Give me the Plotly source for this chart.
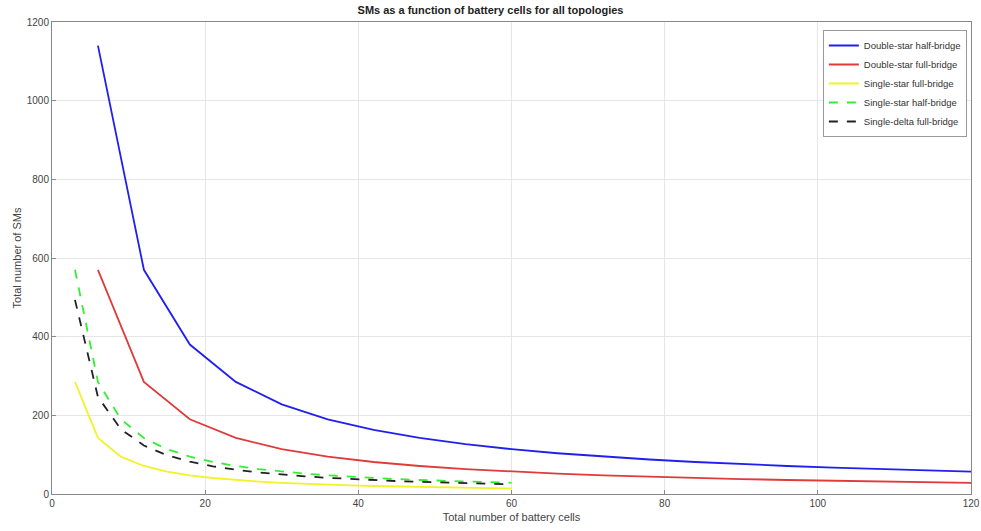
import plotly.graph_objects as go

# Data
x_double = [6, 12, 18, 24, 30, 36, 42, 48, 54, 60, 66, 72, 78, 84, 90, 96, 102, 108, 114, 120]
x_single = [3, 6, 9, 12, 15, 18, 21, 24, 27, 30, 33, 36, 39, 42, 45, 48, 51, 54, 57, 60]

ds_half = [1140, 570, 380, 285, 228, 190, 162.9, 142.5, 126.7, 114, 103.6, 95, 87.7, 81.4, 76, 71.25, 67.1, 63.3, 60, 57]
ds_full = [570, 285, 190, 142.5, 114, 95, 81.4, 71.25, 63.3, 57, 51.8, 47.5, 43.8, 40.7, 38, 35.6, 33.5, 31.7, 30, 28.5]
ss_full = [285, 142.5, 95, 71.25, 57, 47.5, 40.7, 35.6, 31.7, 28.5, 25.9, 23.75, 21.9, 20.4, 19, 17.8, 16.8, 15.8, 15, 14.25]
ss_half = [570, 285, 190, 142.5, 114, 95, 81.4, 71.25, 63.3, 57, 51.8, 47.5, 43.8, 40.7, 38, 35.6, 33.5, 31.7, 30, 28.5]
sd_full = [493.6, 246.8, 164.6, 123.4, 98.7, 82.3, 70.5, 61.7, 54.9, 49.4, 44.9, 41.1, 38, 35.3, 32.9, 30.9, 29, 27.4, 26, 24.7]

x_ticks = [0, 20, 40, 60, 80, 100, 120]
y_ticks = [0, 200, 400, 600, 800, 1000, 1200]

FONT = "Liberation Sans, Arial, sans-serif"

fig = go.Figure()
fig.add_trace(go.Scatter(x=x_double, y=ds_half, mode="lines", name="Double-star half-bridge",
                         line=dict(color="#2020ee", width=1.8)))
fig.add_trace(go.Scatter(x=x_double, y=ds_full, mode="lines", name="Double-star full-bridge",
                         line=dict(color="#e03a3a", width=1.8)))
fig.add_trace(go.Scatter(x=x_single, y=ss_full, mode="lines", name="Single-star full-bridge",
                         line=dict(color="#f2f22a", width=1.8)))
fig.add_trace(go.Scatter(x=x_single, y=ss_half, mode="lines", name="Single-star half-bridge",
                         line=dict(color="#33ee33", width=1.8, dash="dash")))
fig.add_trace(go.Scatter(x=x_single, y=sd_full, mode="lines", name="Single-delta full-bridge",
                         line=dict(color="#222222", width=1.8, dash="dash")))

axis_common = dict(
    showgrid=True, gridcolor="#e6e6e6", gridwidth=1,
    showline=True, linecolor="#888888", linewidth=1, mirror=True,
    ticks="inside", ticklen=4, tickcolor="#888888",
    zeroline=False, automargin=False, ticklabeloverflow="allow",
    tickfont=dict(family=FONT, size=10, color="#444444"),
)

fig.update_layout(
    width=981, height=531,
    margin=dict(l=52, r=10, t=22, b=37, autoexpand=False),
    paper_bgcolor="white", plot_bgcolor="white",
    title=dict(text="<b>SMs as a function of battery cells for all topologies</b>",
               x=0.5, xanchor="center", xref="container", yref="container",
               y=1 - 10 / 531, yanchor="middle",
               font=dict(family=FONT, size=11, color="#222222")),
    xaxis=dict(range=[0, 120], tickvals=x_ticks,
               title=dict(text="Total number of battery cells", standoff=5,
                          font=dict(family=FONT, size=11, color="#444444")),
               **axis_common),
    yaxis=dict(range=[0, 1200], tickvals=y_ticks,
               title=dict(text="Total number of SMs", standoff=2,
                          font=dict(family=FONT, size=11, color="#444444")),
               **axis_common),
    legend=dict(x=0.9955, y=0.983, xanchor="right", yanchor="top",
                bgcolor="white", bordercolor="#999999", borderwidth=1,
                font=dict(family=FONT, size=9.5, color="#333333"),
                tracegroupgap=0, itemwidth=30),
    showlegend=True,
)

fig.write_html(
    "out.html",
    config={"displayModeBar": False},
    post_script="document.body.style.margin='0';document.body.style.padding='0';",
)
